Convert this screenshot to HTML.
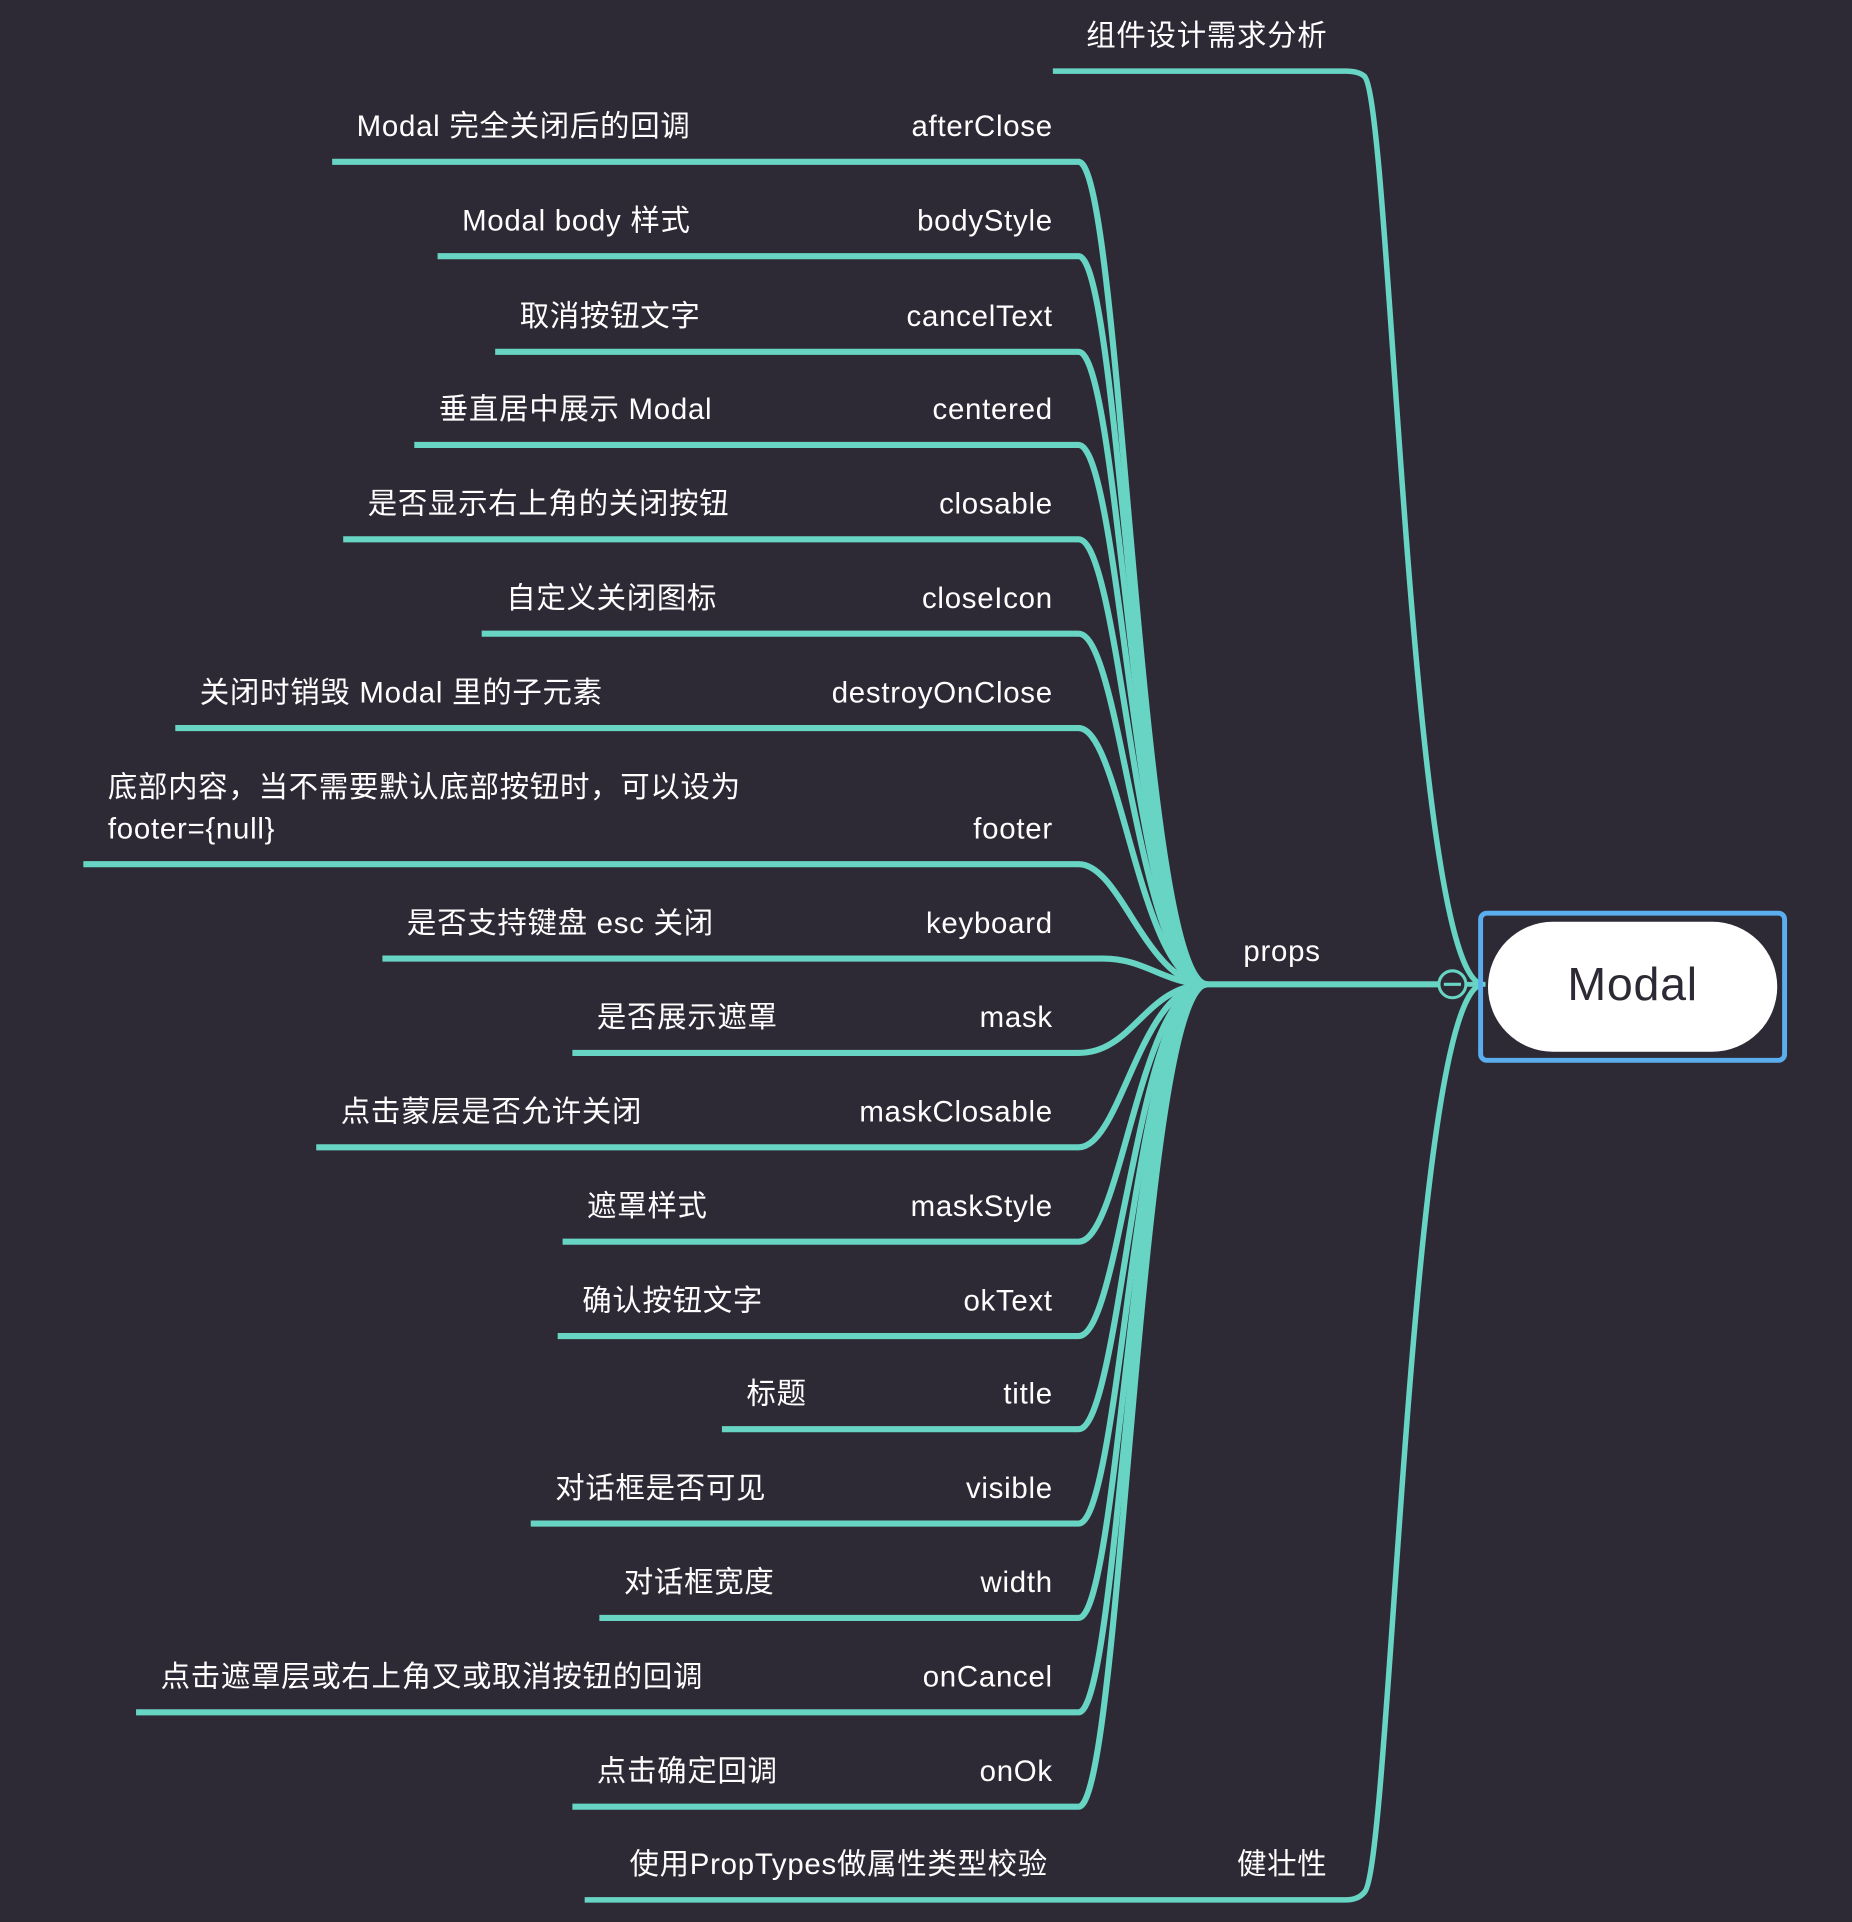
<!DOCTYPE html>
<html><head><meta charset="utf-8"><style>
html,body{margin:0;padding:0;background:#2e2a35;}
svg{display:block}
text{font-family:"Liberation Sans","Noto Sans CJK SC",sans-serif;fill:#fff;font-size:24px;letter-spacing:0.6px}
</style></head><body>
<svg width="1852" height="1922" viewBox="0 0 1511 1568" xmlns="http://www.w3.org/2000/svg">
<rect width="1511" height="1568" fill="#2e2a35"/>
<g fill="none" stroke="#67d4c4" stroke-linecap="butt">
<path d="M1210,803 C1150,800 1135,80 1113,62 Q1108,58 1098,58 L859,58" stroke-width="4.5"/>
<path d="M1210,803 C1150,806 1135,1526 1113,1544 Q1108,1550 1098,1550 L477,1550" stroke-width="4.5"/>
<path d="M985,803 L1174,803" stroke-width="5"/>
<path d="M1196,803 L1212,803" stroke-width="4"/>
<g stroke-width="5">
<path d="M271,132 L880,132 C915,132 930,803 985,803"/>
<path d="M357,209 L880,209 C915,209 930,803 985,803"/>
<path d="M404,287 L880,287 C915,287 930,803 985,803"/>
<path d="M338,363 L880,363 C915,363 930,803 985,803"/>
<path d="M280,440 L880,440 C915,440 930,803 985,803"/>
<path d="M393,517 L880,517 C915,517 930,803 985,803"/>
<path d="M143,594 L880,594 C915,594 930,803 985,803"/>
<path d="M68,705 L880,705 C915,705 935,803 985,803"/>
<path d="M312,782 L900,782 C935,782 950,803 985,803"/>
<path d="M467,859 L880,859 C925,859 935,803 985,803"/>
<path d="M258,936 L880,936 C915,936 930,803 985,803"/>
<path d="M459,1013 L880,1013 C915,1013 930,803 985,803"/>
<path d="M455,1090 L880,1090 C915,1090 930,803 985,803"/>
<path d="M589,1166 L880,1166 C915,1166 930,803 985,803"/>
<path d="M433,1243 L880,1243 C915,1243 930,803 985,803"/>
<path d="M489,1320 L880,1320 C915,1320 930,803 985,803"/>
<path d="M111,1397 L880,1397 C915,1397 930,803 985,803"/>
<path d="M467,1474 L880,1474 C915,1474 930,803 985,803"/>
</g>
</g>
<circle cx="1185" cy="803" r="11" fill="#2e2a35" stroke="#67d4c4" stroke-width="2.5"/>
<line x1="1178" y1="803" x2="1192" y2="803" stroke="#67d4c4" stroke-width="2.5"/>
<rect x="1208" y="745" width="248" height="120" rx="5" fill="none" stroke="#5aaeee" stroke-width="4"/>
<rect x="1214" y="752" width="236" height="106" rx="53" fill="#fff"/>
<text x="1332" y="816" text-anchor="middle" style="font-size:38px;fill:#2e2a35">Modal</text>
<text x="1046" y="784" text-anchor="middle">props</text>
<text x="1083" y="37" text-anchor="end">组件设计需求分析</text>
<text x="1083" y="1529" text-anchor="end">健壮性</text>
<text x="855" y="1529" text-anchor="end">使用PropTypes做属性类型校验</text>
<g text-anchor="end">
<text x="859" y="111">afterClose</text>
<text x="859" y="188">bodyStyle</text>
<text x="859" y="266">cancelText</text>
<text x="859" y="342">centered</text>
<text x="859" y="419">closable</text>
<text x="859" y="496">closeIcon</text>
<text x="859" y="573">destroyOnClose</text>
<text x="859" y="684">footer</text>
<text x="859" y="761">keyboard</text>
<text x="859" y="838">mask</text>
<text x="859" y="915">maskClosable</text>
<text x="859" y="992">maskStyle</text>
<text x="859" y="1069">okText</text>
<text x="859" y="1145">title</text>
<text x="859" y="1222">visible</text>
<text x="859" y="1299">width</text>
<text x="859" y="1376">onCancel</text>
<text x="859" y="1453">onOk</text>
</g>
<text x="291" y="111">Modal 完全关闭后的回调</text>
<text x="377" y="188">Modal body 样式</text>
<text x="424" y="266">取消按钮文字</text>
<text x="358" y="342">垂直居中展示 Modal</text>
<text x="300" y="419">是否显示右上角的关闭按钮</text>
<text x="413" y="496">自定义关闭图标</text>
<text x="163" y="573">关闭时销毁 Modal 里的子元素</text>
<text x="88" y="650">底部内容，当不需要默认底部按钮时，可以设为</text>
<text x="88" y="684">footer={null}</text>
<text x="332" y="761">是否支持键盘 esc 关闭</text>
<text x="487" y="838">是否展示遮罩</text>
<text x="278" y="915">点击蒙层是否允许关闭</text>
<text x="479" y="992">遮罩样式</text>
<text x="475" y="1069">确认按钮文字</text>
<text x="609" y="1145">标题</text>
<text x="453" y="1222">对话框是否可见</text>
<text x="509" y="1299">对话框宽度</text>
<text x="131" y="1376">点击遮罩层或右上角叉或取消按钮的回调</text>
<text x="487" y="1453">点击确定回调</text>
</svg>
</body></html>
